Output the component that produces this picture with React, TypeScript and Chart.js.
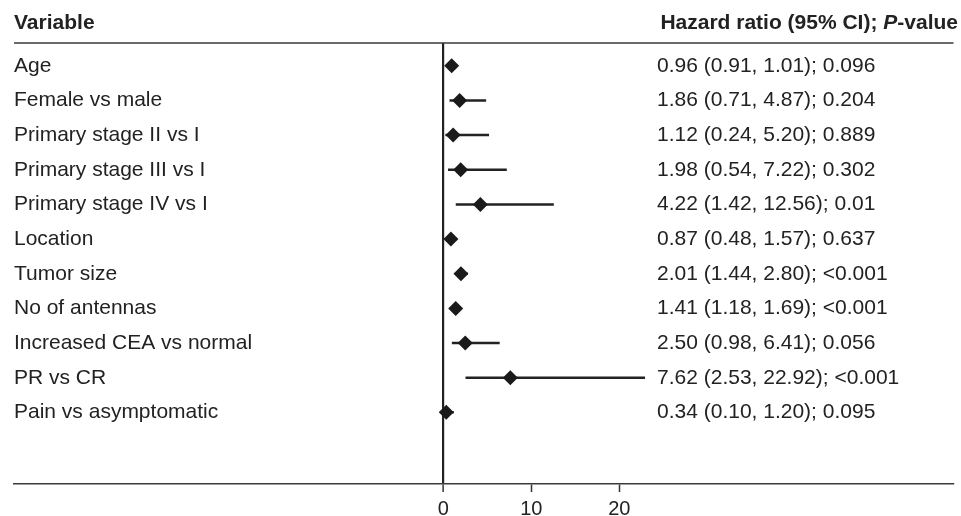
import React, { useEffect, useRef } from 'react';
import { Chart, registerables } from 'chart.js';

Chart.register(...registerables);

const variables = [
  'Age',
  'Female vs male',
  'Primary stage II vs I',
  'Primary stage III vs I',
  'Primary stage IV vs I',
  'Location',
  'Tumor size',
  'No of antennas',
  'Increased CEA vs normal',
  'PR vs CR',
  'Pain vs asymptomatic',
];
const hazardRatios = [0.96, 1.86, 1.12, 1.98, 4.22, 0.87, 2.01, 1.41, 2.5, 7.62, 0.34];
const ciLower = [0.91, 0.71, 0.24, 0.54, 1.42, 0.48, 1.44, 1.18, 0.98, 2.53, 0.1];
const ciUpper = [1.01, 4.87, 5.2, 7.22, 12.56, 1.57, 2.8, 1.69, 6.41, 22.92, 1.2];
const pValues = ['0.096', '0.204', '0.889', '0.302', '0.01', '0.637', '<0.001', '<0.001', '0.056', '<0.001', '0.095'];
const xTicks = [0, 10, 20];

const FONT = "'Liberation Sans', Arial, Helvetica, sans-serif";
const INK = '#222';
const RULE = '#3a3a3a';
const HR_COLUMN_OFFSET = 643;

const hrTexts = hazardRatios.map(
  (hr, i) => `${hr.toFixed(2)} (${ciLower[i].toFixed(2)}, ${ciUpper[i].toFixed(2)}); ${pValues[i]}`
);

const tablePlugin = {
  id: 'forestTable',
  afterDraw(chart: any) {
    const { ctx, chartArea, scales } = chart;
    const yScale = scales.y;
    ctx.save();
    // header rule along the top of the plot area
    ctx.strokeStyle = RULE;
    ctx.lineWidth = 1.5;
    ctx.beginPath();
    ctx.moveTo(chartArea.left, chartArea.top);
    ctx.lineTo(chartArea.right, chartArea.top);
    ctx.stroke();
    // row texts
    ctx.fillStyle = INK;
    ctx.font = `21px ${FONT}`;
    ctx.textBaseline = 'middle';
    ctx.textAlign = 'left';
    variables.forEach((label, i) => {
      const y = yScale.getPixelForValue(i + 1);
      ctx.fillText(label, chartArea.left, y);
      ctx.fillText(hrTexts[i], chartArea.left + HR_COLUMN_OFFSET, y);
    });
    ctx.restore();
  },
};

export default function App() {
  const canvasRef = useRef<HTMLCanvasElement | null>(null);

  useEffect(() => {
    document.body.style.margin = '0';
    const canvas = canvasRef.current;
    if (!canvas) return;

    const rowDatasets = variables.map((_, i) => ({
      label: `ci-${i}`,
      data: [
        { x: ciLower[i], y: i + 1 },
        { x: ciUpper[i], y: i + 1 },
      ],
      showLine: true,
      borderColor: INK,
      borderWidth: 2.5,
      pointRadius: 0,
      xAxisID: 'x',
      yAxisID: 'y',
    }));

    const chart = new Chart(canvas, {
      type: 'scatter',
      data: {
        datasets: [
          {
            label: 'HR',
            data: hazardRatios.map((hr, i) => ({ x: hr, y: i + 1 })),
            pointStyle: 'rectRot',
            pointRadius: 7.5,
            backgroundColor: '#1a1a1a',
            borderColor: '#1a1a1a',
            borderWidth: 0,
            xAxisID: 'x',
            yAxisID: 'y',
          },
          ...rowDatasets,
        ] as any,
      },
      options: {
        animation: false,
        responsive: false,
        layout: { padding: { left: 14, right: 0, top: 43, bottom: 0 } },
        plugins: { legend: { display: false }, tooltip: { enabled: false } },
        scales: {
          x: {
            type: 'linear',
            position: 'bottom',
            min: -48.75,
            max: 57.95,
            afterBuildTicks: (scale: any) => {
              scale.ticks = xTicks.map((v) => ({ value: v }));
            },
            grid: {
              color: (ctx: any) => (ctx.tick && ctx.tick.value === 0 ? INK : 'rgba(0,0,0,0)'),
              lineWidth: (ctx: any) => (ctx.tick && ctx.tick.value === 0 ? 2.2 : 1),
              tickLength: 8,
              tickColor: '#333',
              tickWidth: 1.5,
            },
            border: { display: true, color: RULE, width: 1.5 },
            ticks: {
              color: INK,
              font: { family: FONT, size: 20 },
              padding: 5,
              maxRotation: 0,
              autoSkip: false,
            },
          },
          y: {
            type: 'linear',
            display: false,
            reverse: true,
            min: 0.342,
            max: 13.067,
          },
        },
      } as any,
      plugins: [tablePlugin],
    });

    return () => {
      chart.destroy();
    };
  }, []);

  return (
    <div style={{ position: 'relative', width: 961, height: 516, overflow: 'hidden', fontFamily: FONT, color: INK }}>
      <canvas ref={canvasRef} width={961} height={526} style={{ display: 'block' }} />
      <div
        style={{
          position: 'absolute',
          left: 14,
          top: 10,
          fontSize: 21,
          lineHeight: '24px',
          fontWeight: 'bold',
        }}
      >
        Variable
      </div>
      <div
        style={{
          position: 'absolute',
          right: 3,
          top: 10,
          fontSize: 21,
          lineHeight: '24px',
          fontWeight: 'bold',
          whiteSpace: 'nowrap',
        }}
      >
        Hazard ratio (95% CI); <i>P</i>-value
      </div>
    </div>
  );
}
